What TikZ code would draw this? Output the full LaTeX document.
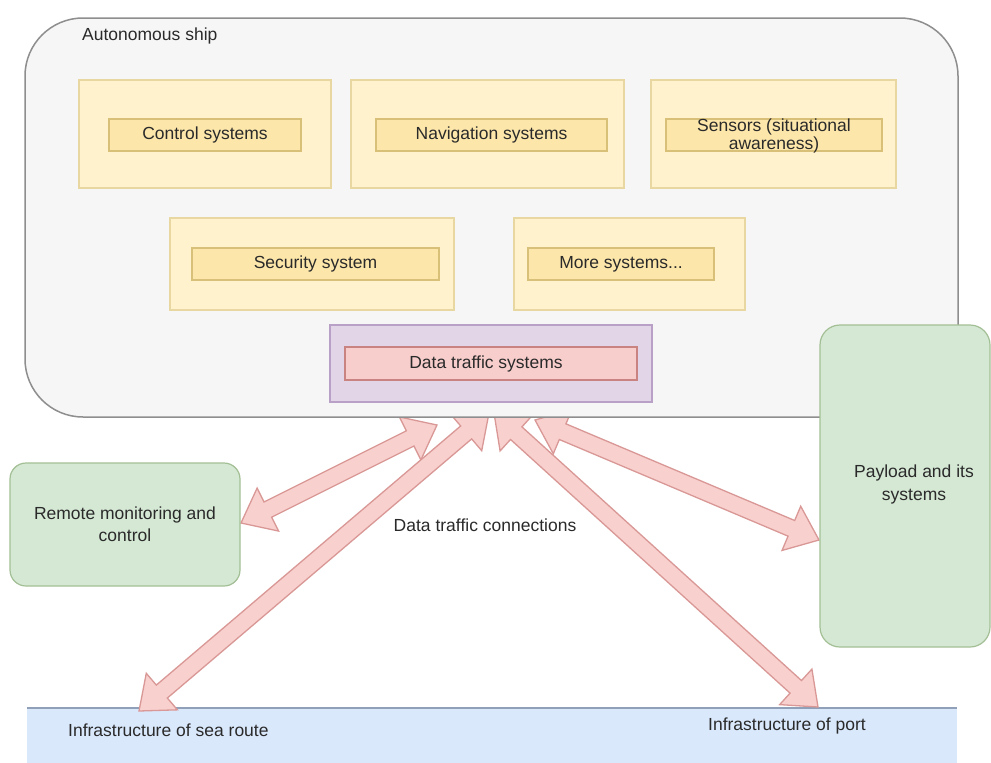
\documentclass[tikz,border=0pt]{standalone}
\usepackage{fontspec}
\setmainfont{Liberation Sans}
\usetikzlibrary{calc}
\definecolor{shipfill}{HTML}{F6F6F6}
\definecolor{shipdraw}{HTML}{8E8E8E}
\definecolor{yfill}{HTML}{FFF2CC}
\definecolor{ydraw}{HTML}{E8D7A0}
\definecolor{yinfill}{HTML}{FCE6AA}
\definecolor{yindraw}{HTML}{D9C078}
\definecolor{pfill}{HTML}{E1D5E7}
\definecolor{pdraw}{HTML}{B9A0C6}
\definecolor{rfill}{HTML}{F8CECC}
\definecolor{rdraw}{HTML}{C98482}
\definecolor{gfill}{HTML}{D5E8D4}
\definecolor{gdraw}{HTML}{A3BF95}
\definecolor{bfill}{HTML}{DAE8FC}
\definecolor{bdraw}{HTML}{8FA0B8}
\definecolor{afill}{HTML}{F8D0CE}
\definecolor{adraw}{HTML}{D99896}
\definecolor{txt}{HTML}{2A2A2A}
\newcommand\fahl{30pt}
\newcommand\fahw{24pt}
\newcommand\fasw{8.5pt}
\newcommand\flexarr[2]{%
  \path ($(#1)!\fahl!(#2)$) coordinate (fa1) ($(#2)!\fahl!(#1)$) coordinate (fa2);
  \draw[flexarrow] (#1) -- ($(fa1)!\fahw!90:(#2)$) -- ($(fa1)!\fasw!90:(#2)$)
    -- ($(fa2)!\fasw!-90:(#1)$) -- ($(fa2)!\fahw!-90:(#1)$) -- (#2)
    -- ($(fa2)!\fahw!90:(#1)$) -- ($(fa2)!\fasw!90:(#1)$)
    -- ($(fa1)!\fasw!-90:(#2)$) -- ($(fa1)!\fahw!-90:(#2)$) -- cycle;}
\tikzset{
  every node/.style={font=\fontsize{17.5}{20}\selectfont, text=txt, inner sep=0pt},
  shipbox/.style={draw=shipdraw, fill=shipfill, line width=1.5pt, rounded corners=58pt},
  yout/.style={draw=ydraw, fill=yfill, line width=1.2pt, minimum height=108pt},
  yout2/.style={draw=ydraw, fill=yfill, line width=1.2pt, minimum height=92pt},
  yin/.style={draw=yindraw, fill=yinfill, line width=1.2pt, minimum height=32pt, align=center},
  pout/.style={draw=pdraw, fill=pfill, line width=1.2pt},
  pin/.style={draw=rdraw, fill=rfill, line width=1.2pt},
  gbox/.style={draw=gdraw, fill=gfill, line width=1.2pt},
  flexarrow/.style={draw=adraw, fill=afill, line width=1.3pt, line join=miter}
}
\begin{document}
\begin{tikzpicture}[x=1pt,y=-1pt]
\useasboundingbox (0,0) rectangle (991,763);
\fill[white] (0,0) rectangle (991,763);

% blue band
\fill[bfill] (27,708) rectangle (957,763);
\draw[bdraw, line width=1.2pt] (27,708) -- (957,708);
\node[anchor=west] (sea) at (68,730) {Infrastructure of sea route};
\node[anchor=west] (port) at (708,726) {Infrastructure of port};
\coordinate (seaTip) at (139,711);
\coordinate (portTip) at (818,707);

% arrows (drawn below the ship box)
\coordinate (rTop) at (437,425);
\coordinate (rBot) at (241,523);
\coordinate (sTop) at (489,413);
\coordinate (pTop) at (494,413);
\coordinate (yTop) at (535,420);
\coordinate (yBot) at (819,540);
\flexarr{rTop}{rBot}
\flexarr{sTop}{seaTip}
\flexarr{pTop}{portTip}
\flexarr{yTop}{yBot}

% ship
\node[shipbox, minimum width=933pt, minimum height=399pt] (ship) at (491.5,217.5) {};
\node[anchor=west] (shiplbl) at (82,36) {Autonomous ship};

\node[yout, minimum width=252pt] (ctlO) at (205,134) {};
\node[yin, minimum width=192pt] (ctlI) at (205,135) {Control systems};
\node[yout, minimum width=273pt] (navO) at (487.5,134) {};
\node[yin, minimum width=231pt] (navI) at (491.5,135) {Navigation systems};
\node[yout, minimum width=245pt] (senO) at (773.5,134) {};
\node[yin, minimum width=216pt] (senI) at (774,135) {};
\node[align=center, font=\fontsize{17.5}{16}\selectfont] (senT) at (774,136) {Sensors (situational\\awareness)};
\node[yout2, minimum width=284pt] (secO) at (312,264) {};
\node[yin, minimum width=247pt] (secI) at (315.5,264) {Security system};
\node[yout2, minimum width=231pt] (morO) at (629.5,264) {};
\node[yin, minimum width=186pt] (morI) at (621,264) {More systems...};

\node[pout, minimum width=322pt, minimum height=77pt] (dtsO) at (491,363.5) {};
\node[pin, minimum width=292pt, minimum height=33pt] (dtsI) at (491,363.5) {};
\node (dtsT) at (486,363.5) {Data traffic systems};

% remote & payload
\node[gbox, rounded corners=16pt, minimum width=230pt, minimum height=123pt, align=center,
      font=\fontsize{17.5}{22}\selectfont] (remote) at (125,524.5) {Remote monitoring and\\control};
\node[gbox, rounded corners=20pt, minimum width=170pt, minimum height=322pt] (pay) at (905,486) {};
\node[align=center, font=\fontsize{17.5}{23}\selectfont] (payT) at (914,484) {Payload and its\\systems};

\node (dtc) at (485,525) {Data traffic connections};
\end{tikzpicture}
\end{document}
